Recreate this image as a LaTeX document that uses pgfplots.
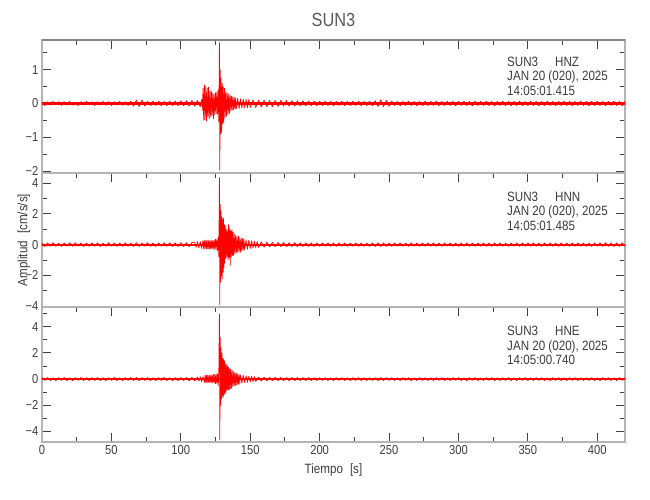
\documentclass[border=0pt]{standalone}
\usepackage{fontspec}
\setmainfont{Liberation Sans}[FakeStretch=0.86]
\usepackage{pgfplots}
\pgfplotsset{compat=1.18}
\definecolor{txt}{HTML}{3C3C3C}
\definecolor{frm}{HTML}{B4B4B4}
\definecolor{frmd}{HTML}{858585}
\definecolor{tk}{HTML}{404040}
\pgfplotsset{
  seis/.style={
    scale only axis, width=583pt,
    xmin=0, xmax=420,
    tick align=inside,
    xtick={0,50,...,400}, minor xtick={25,75,...,425},
    ytick pos=both,
    axis line style={draw=frm, line width=1.6pt},
    major tick length=9pt, minor tick length=5pt,
    tick style={draw=tk, line width=0.9pt},
    tick label style={font=\fontsize{13}{15}\selectfont, text=txt},
    /pgf/number format/assume math mode=true,
  },
  trace/.style={red, line width=0.7pt, line join=round},
}
\newcommand{\anno}[3]{\node[anchor=north west, inner sep=0pt, align=left, text=txt, font=\fontsize{13.5}{14.5}\selectfont] at (rel axis cs:0.7976,#1) {SUN3\hspace{17pt}#2\\JAN 20 (020), 2025\\#3};}
\begin{document}
\begin{tikzpicture}
\useasboundingbox (-42pt,-460pt) rectangle (608pt,40pt);
% ---------------- HNZ ----------------
\begin{axis}[seis, name=ax1, at={(0,0)}, anchor=north west, height=133pt,
  ymin=-2.06, ymax=1.88, ytick={-2,-1,0,1}, yticklabels={−2,−1,0,1},
  minor ytick={-1.5,-0.5,0.5,1.5}, xtick pos=right, xticklabels={}]
\addplot[red, line width=3.2pt] coordinates {(0,0)(420,0)};
\addplot[trace] coordinates {
(0,0.04)(2,-0.06)(4,0.05)(6,-0.05)(8,0.06)(10,-0.04)(12,0.05)(14,-0.06)(16,0.05)(18,-0.05)(20,0.06)(22,-0.05)(24,0.04)(26,-0.06)(28,0.05)(30,-0.05)(32,0.06)(34,-0.04)(36,0.05)(38,-0.06)(40,0.05)(42,-0.05)(44,0.06)(46,-0.05)(48,0.05)(50,-0.06)(52,0.05)(54,-0.05)(56,0.06)(58,-0.05)(60,0.05)(62,-0.06)(64,0.07)(66,-0.08)(68,0.1)(70,-0.09)(72,0.1)(74,-0.08)(76,0.07)(78,-0.06)(80,0.07)(82,-0.06)(84,0.07)(86,-0.07)(88,0.06)(90,-0.07)(92,0.07)(94,-0.06)(96,0.07)(98,-0.07)(100,0.08)(102,-0.07)(104,0.08)(106,-0.08)(108,0.09)(110,-0.08)(112,0.09)(114,-0.1)
(115,0.12)(115.5,-0.2)(116,0.45)(116.5,-0.5)(117,0.55)(117.5,-0.48)(118,0.5)(118.5,-0.52)(119,0.45)(119.5,-0.4)(120,0.48)(120.5,-0.45)(121,0.35)(121.5,-0.4)(122,0.38)(122.5,-0.35)(123,0.3)(123.5,-0.45)(124,0.28)(124.5,-0.35)(125,0.32)(125.5,-0.3)(126,0.35)(126.5,-0.32)(127,0.4)(127.4,-0.55)(127.8,1.8)(128.1,-1.98)(128.4,1.0)(128.7,-0.9)(129,0.75)(129.4,-0.85)(129.8,0.6)(130.2,-0.6)(130.6,0.5)(131,-0.55)(131.5,0.45)(132,-0.4)(132.5,0.35)(133,-0.38)(133.5,0.3)(134,-0.3)(134.5,0.28)(135,-0.3)(135.5,0.25)(136,-0.22)(136.5,0.22)(137,-0.2)(137.5,0.2)(138,-0.18)(138.5,0.18)(139,-0.17)(139.5,0.16)(140,-0.16)(141,0.15)(142,-0.15)(143,0.14)(144,-0.14)(145,0.13)(146,-0.13)(147,0.12)(148,-0.13)(149,0.12)(150,-0.12)
(152,0.11)(154,-0.12)(156,0.1)(158,-0.11)(160,0.1)(162,-0.1)(164,0.09)(166,-0.1)(168,0.09)(170,-0.09)(172,0.09)(174,-0.08)(176,0.09)(178,-0.08)(180,0.08)(182,-0.08)(184,0.08)(186,-0.07)(188,0.08)(190,-0.07)(192,0.07)(194,-0.07)(196,0.07)(198,-0.07)(200,0.07)(202,-0.06)(204,0.07)(206,-0.06)(208,0.06)(210,-0.07)(212,0.06)(214,-0.06)(216,0.07)(218,-0.06)(220,0.06)(222,-0.06)(224,0.07)(226,-0.06)(228,0.06)(230,-0.07)(232,0.06)(234,-0.06)(236,0.07)(238,-0.07)(240,0.08)(242,-0.09)(244,0.11)(246,-0.1)(248,0.09)(250,-0.08)(252,0.07)(254,-0.06)
(256,0.06)(258,-0.07)(260,0.06)(262,-0.06)(264,0.07)(266,-0.06)(268,0.06)(270,-0.07)(272,0.06)(274,-0.06)(276,0.07)(278,-0.06)(280,0.06)(282,-0.06)(284,0.07)(286,-0.07)(288,0.06)(290,-0.06)(292,0.07)(294,-0.06)(296,0.06)(298,-0.07)(300,0.06)(302,-0.06)(304,0.07)(306,-0.06)(308,0.06)(310,-0.07)(312,0.07)(314,-0.06)(316,0.06)(318,-0.06)(320,0.07)(322,-0.06)(324,0.06)(326,-0.07)(328,0.06)(330,-0.06)(332,0.07)(334,-0.06)(336,0.06)(338,-0.07)(340,0.06)(342,-0.06)(344,0.07)(346,-0.07)(348,0.06)(350,-0.06)(352,0.07)(354,-0.06)(356,0.06)(358,-0.07)(360,0.06)(362,-0.06)(364,0.07)(366,-0.06)(368,0.06)(370,-0.07)(372,0.06)(374,-0.06)(376,0.07)(378,-0.06)(380,0.06)(382,-0.07)(384,0.06)(386,-0.06)(388,0.07)(390,-0.06)(392,0.06)(394,-0.07)(396,0.06)(398,-0.06)(400,0.07)(402,-0.06)(404,0.06)(406,-0.07)(408,0.06)(410,-0.06)(412,0.07)(414,-0.06)(416,0.06)(418,-0.07)(420,0.06)
};
\anno{0.874}{HNZ}{14:05:01.415}
\end{axis}
\draw[frmd, line width=1.6pt] (ax1.north west) -- (ax1.north east);
% ---------------- HNN ----------------
\begin{axis}[seis, at={(0,-133pt)}, anchor=north west, height=134pt,
  ymin=-4.05, ymax=4.65, ytick={-4,-2,0,2,4}, yticklabels={−4,−2,0,2,4},
  minor ytick={-3,-1,1,3}, xtick pos=right, xticklabels={}]
\addplot[red, line width=2.2pt] coordinates {(0,0)(420,0)};
\addplot[trace] coordinates {
(0,0.1)(2,-0.12)(4,0.11)(6,-0.1)(8,0.12)(10,-0.11)(12,0.1)(14,-0.12)(16,0.11)(18,-0.1)(20,0.12)(22,-0.11)(24,0.12)(26,-0.1)(28,0.11)(30,-0.12)(32,0.1)(34,-0.11)(36,0.12)(38,-0.1)(40,0.11)(42,-0.12)(44,0.1)(46,-0.11)(48,0.12)(50,-0.1)(52,0.11)(54,-0.12)(56,0.1)(58,-0.11)(60,0.12)(62,-0.1)(64,0.11)(66,-0.12)(68,0.13)(70,-0.12)(72,0.11)(74,-0.1)(76,0.12)(78,-0.11)(80,0.1)(82,-0.12)(84,0.11)(86,-0.1)(88,0.12)(90,-0.11)(92,0.12)(94,-0.12)(96,0.11)(98,-0.12)(100,0.13)(102,-0.12)(104,0.13)(106,-0.14)(108,0.14)
(110,0.15)(111,-0.18)(112,0.2)(113,-0.22)(114,0.2)(115,-0.25)(116,0.28)(116.5,-0.3)(117,0.25)(117.5,-0.28)(118,0.3)(118.5,-0.25)(119,0.28)(119.5,-0.3)(120,0.25)(120.5,-0.3)(121,0.3)(121.5,-0.28)(122,0.25)(122.5,-0.3)(123,0.28)(123.5,-0.25)(124,0.3)(124.5,-0.32)(125,0.35)(125.5,-0.3)(126,0.35)(126.5,-0.4)(127,0.5)(127.4,-0.8)(127.8,4.35)(128.1,-3.9)(128.4,2.6)(128.7,-2.4)(129,2.2)(129.3,-2.0)(129.6,1.8)(129.9,-2.2)(130.2,1.6)(130.5,-1.8)(130.8,1.7)(131.1,-1.5)(131.4,1.3)(131.7,-1.2)(132,1.2)(132.4,-0.9)(132.8,1.0)(133.2,-0.8)(133.6,0.9)(134,-1.0)(134.4,1.3)(134.8,-0.9)(135.2,1.1)(135.6,-1.35)(136,0.9)(136.4,-0.8)(136.8,1.0)(137.2,-0.7)(137.6,0.8)(138,-0.7)(138.5,0.7)(139,-0.6)(139.5,0.6)(140,-0.55)(140.5,0.5)(141,-0.5)(141.5,0.55)(142,-0.45)(142.5,0.45)(143,-0.5)(143.5,0.4)(144,-0.4)(144.5,0.4)(145,-0.35)(145.5,0.35)(146,-0.35)(147,0.3)(148,-0.3)(149,0.28)(150,-0.25)(151,0.25)(152,-0.22)(153,0.22)(154,-0.2)(155,0.2)(156,-0.18)(158,0.18)(160,-0.16)(162,0.16)(164,-0.15)
(166,0.15)(168,-0.14)(170,0.14)(172,-0.13)(174,0.14)(176,-0.13)(178,0.13)(180,-0.13)(182,0.12)(184,-0.13)(186,0.12)(188,-0.12)(190,0.12)(192,-0.12)(194,0.11)(196,-0.12)(198,0.11)(200,-0.11)
(202,0.11)(204,-0.1)(206,0.11)(208,-0.11)(210,0.1)(212,-0.11)(214,0.11)(216,-0.1)(218,0.11)(220,-0.11)(222,0.1)(224,-0.11)(226,0.11)(228,-0.1)(230,0.11)(232,-0.11)(234,0.1)(236,-0.11)(238,0.11)(240,-0.12)(242,0.12)(244,-0.12)(246,0.11)(248,-0.11)(250,0.1)(252,-0.11)(254,0.11)(256,-0.1)(258,0.11)(260,-0.11)(262,0.1)(264,-0.11)(266,0.11)(268,-0.1)(270,0.11)(272,-0.11)(274,0.1)(276,-0.11)(278,0.11)(280,-0.1)(282,0.11)(284,-0.11)(286,0.1)(288,-0.11)(290,0.11)(292,-0.1)(294,0.11)(296,-0.11)(298,0.1)(300,-0.11)(302,0.11)(304,-0.1)(306,0.11)(308,-0.11)(310,0.1)(312,-0.11)(314,0.11)(316,-0.1)(318,0.11)(320,-0.11)(322,0.1)(324,-0.11)(326,0.11)(328,-0.1)(330,0.11)(332,-0.11)(334,0.1)(336,-0.11)(338,0.11)(340,-0.1)(342,0.11)(344,-0.11)(346,0.1)(348,-0.11)(350,0.11)(352,-0.1)(354,0.11)(356,-0.11)(358,0.1)(360,-0.11)(362,0.11)(364,-0.1)(366,0.11)(368,-0.11)(370,0.1)(372,-0.11)(374,0.11)(376,-0.1)(378,0.11)(380,-0.11)(382,0.1)(384,-0.11)(386,0.11)(388,-0.1)(390,0.11)(392,-0.11)(394,0.1)(396,-0.11)(398,0.11)(400,-0.1)(402,0.11)(404,-0.11)(406,0.12)(408,-0.11)(410,0.12)(412,-0.12)(414,0.11)(416,-0.11)(418,0.12)(420,-0.11)
};
\anno{0.860}{HNN}{14:05:01.485}
\end{axis}
% ---------------- HNE ----------------
\begin{axis}[seis, at={(0,-267pt)}, anchor=north west, height=135pt,
  ymin=-4.8, ymax=5.5, ytick={-4,-2,0,2,4}, yticklabels={−4,−2,0,2,4},
  minor ytick={-3,-1,1,3,5}, xtick pos=both, xticklabel pos=left,
  xticklabels={0,50,100,150,200,250,300,350,400}]
\addplot[red, line width=2.2pt] coordinates {(0,0)(420,0)};
\addplot[trace] coordinates {
(0,0.11)(2,-0.1)(4,0.12)(6,-0.11)(8,0.1)(10,-0.12)(12,0.11)(14,-0.1)(16,0.12)(18,-0.11)(20,0.1)(22,-0.12)(24,0.11)(26,-0.1)(28,0.12)(30,-0.11)(32,0.1)(34,-0.12)(36,0.11)(38,-0.1)(40,0.12)(42,-0.11)(44,0.1)(46,-0.12)(48,0.11)(50,-0.1)(52,0.12)(54,-0.11)(56,0.1)(58,-0.12)(60,0.11)(62,-0.1)(64,0.12)(66,-0.11)(68,0.12)(70,-0.12)(72,0.11)(74,-0.1)(76,0.12)(78,-0.11)(80,0.1)(82,-0.12)(84,0.11)(86,-0.1)(88,0.12)(90,-0.11)(92,0.1)(94,-0.12)(96,0.11)(98,-0.12)(100,0.12)(102,-0.11)(104,0.12)(106,-0.13)(108,0.13)(110,-0.14)
(112,0.15)(113,-0.15)(114,0.18)(115,-0.2)(116,0.2)(117,-0.25)(117.5,0.3)(118,-0.3)(118.5,0.3)(119,-0.28)(119.5,0.3)(120,-0.25)(120.5,0.28)(121,-0.3)(121.5,0.3)(122,-0.25)(122.5,0.28)(123,-0.3)(123.5,0.35)(124,-0.3)(124.5,0.35)(125,-0.35)(125.5,0.4)(126,-0.35)(126.5,0.4)(127,-0.5)(127.4,0.8)(127.8,4.95)(128.1,-4.65)(128.4,3.2)(128.7,-2.0)(129,2.4)(129.3,-1.5)(129.6,2.0)(129.9,-1.3)(130.2,1.6)(130.5,-1.4)(130.8,1.5)(131.1,-1.2)(131.4,1.4)(131.7,-1.1)(132,1.2)(132.4,-1.0)(132.8,1.1)(133.2,-0.9)(133.6,1.0)(134,-0.8)(134.4,0.9)(134.8,-0.85)(135.2,0.8)(135.6,-0.75)(136,0.75)(136.5,-0.7)(137,0.65)(137.5,-0.6)(138,0.55)(138.5,-0.5)(139,0.5)(139.5,-0.5)(140,0.45)(140.5,-0.45)(141,0.4)(141.5,-0.4)(142,0.35)(142.5,-0.35)(143,0.32)(144,-0.3)(145,0.3)(146,-0.28)(147,0.25)(148,-0.25)(149,0.22)(150,-0.22)(151,0.2)(152,-0.2)(153,0.18)(154,-0.18)(156,0.16)(158,-0.16)(160,0.15)(162,-0.14)
(164,0.14)(166,-0.13)(168,0.14)(170,-0.13)(172,0.13)(174,-0.13)(176,0.12)(178,-0.13)(180,0.12)(182,-0.12)(184,0.12)(186,-0.11)(188,0.12)(190,-0.11)(192,0.11)(194,-0.12)(196,0.11)(198,-0.11)(200,0.11)
(202,-0.1)(204,0.11)(206,-0.11)(208,0.1)(210,-0.11)(212,0.11)(214,-0.1)(216,0.11)(218,-0.11)(220,0.1)(222,-0.11)(224,0.11)(226,-0.1)(228,0.11)(230,-0.11)(232,0.1)(234,-0.11)(236,0.11)(238,-0.1)(240,0.11)(242,-0.12)(244,0.12)(246,-0.11)(248,0.11)(250,-0.1)(252,0.11)(254,-0.11)(256,0.1)(258,-0.11)(260,0.11)(262,-0.1)(264,0.11)(266,-0.11)(268,0.1)(270,-0.11)(272,0.11)(274,-0.1)(276,0.11)(278,-0.11)(280,0.1)(282,-0.11)(284,0.11)(286,-0.1)(288,0.11)(290,-0.11)(292,0.1)(294,-0.11)(296,0.11)(298,-0.1)(300,0.11)(302,-0.11)(304,0.1)(306,-0.11)(308,0.11)(310,-0.1)(312,0.11)(314,-0.11)(316,0.1)(318,-0.11)(320,0.11)(322,-0.1)(324,0.11)(326,-0.11)(328,0.1)(330,-0.11)(332,0.11)(334,-0.1)(336,0.11)(338,-0.11)(340,0.1)(342,-0.11)(344,0.11)(346,-0.1)(348,0.11)(350,-0.11)(352,0.1)(354,-0.11)(356,0.11)(358,-0.1)(360,0.11)(362,-0.11)(364,0.1)(366,-0.11)(368,0.11)(370,-0.1)(372,0.11)(374,-0.11)(376,0.1)(378,-0.11)(380,0.11)(382,-0.1)(384,0.11)(386,-0.11)(388,0.1)(390,-0.11)(392,0.11)(394,-0.1)(396,0.11)(398,-0.11)(400,0.1)(402,-0.11)(404,0.11)(406,-0.1)(408,0.11)(410,-0.11)(412,0.1)(414,-0.11)(416,0.11)(418,-0.1)(420,0.11)
};
\anno{0.859}{HNE}{14:05:00.740}
\end{axis}
\node[text=txt!85, font=\fontsize{19}{22}\selectfont] at (291.5pt,20pt) {SUN3};
\node[rotate=90, text=txt, font=\fontsize{13.5}{16}\selectfont] at (-18pt,-200pt) {Amplitud\hspace{7pt}[cm/s/s]};
\node[text=txt, font=\fontsize{13.5}{16}\selectfont] at (291.5pt,-430pt) {Tiempo\hspace{7pt}[s]};
\end{tikzpicture}
\end{document}
